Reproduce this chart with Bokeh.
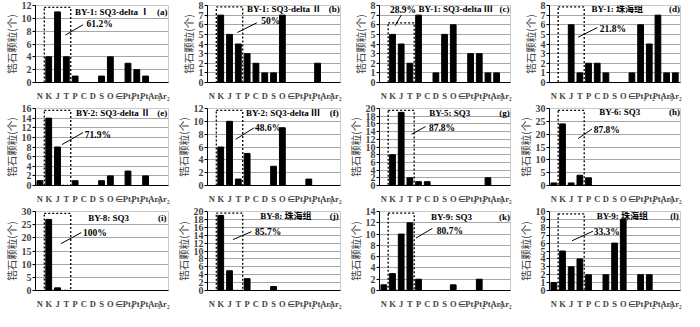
from bokeh.plotting import figure
from bokeh.layouts import gridplot
from bokeh.models import Range1d, FixedTicker
from bokeh.core.properties import value
from bokeh.embed import file_html
from bokeh.resources import INLINE

categories = ["N", "K", "J", "T", "P", "C", "D", "S", "O", "∈", "Pt₃", "Pt₂", "Pt₁", "Ar₃", "Ar₂"]

counts_a = [0, 4, 11, 4, 1, 0, 0, 1, 4, 0, 3, 2, 1, 0, 0]
counts_b = [0, 7, 5, 4, 3, 2, 1, 1, 7, 0, 0, 0, 2, 0, 0]
counts_c = [0, 5, 4, 2, 7, 0, 1, 5, 6, 0, 3, 3, 1, 1, 0]
counts_d = [0, 0, 6, 1, 2, 2, 1, 0, 0, 1, 6, 4, 7, 1, 1]
counts_e = [1, 14, 8, 0, 1, 0, 0, 1, 2, 0, 3, 0, 2, 0, 0]
counts_f = [0, 6, 10, 1, 5, 0, 0, 3, 9, 0, 0, 1, 0, 0, 0]
counts_g = [0, 8, 19, 2, 1, 1, 0, 0, 0, 0, 0, 0, 2, 0, 0]
counts_h = [1, 24, 1, 4, 3, 0, 0, 0, 0, 0, 0, 0, 0, 0, 0]
counts_i = [0, 27, 1, 0, 0, 0, 0, 0, 0, 0, 0, 0, 0, 0, 0]
counts_j = [0, 19, 5, 0, 3, 0, 0, 1, 0, 0, 0, 0, 0, 0, 0]
counts_k = [1, 3, 10, 12, 2, 0, 0, 0, 1, 0, 0, 2, 0, 0, 0]
counts_l = [1, 5, 3, 4, 2, 0, 2, 6, 9, 0, 2, 2, 0, 0, 0]

titles = ["BY-1: SQ3-delta Ⅰ", "BY-1: SQ3-delta Ⅱ", "BY-1: SQ3-delta  Ⅲ", "BY-1: 珠海组",
          "BY-2: SQ3-delta Ⅱ", "BY-2: SQ3-delta  Ⅲ", "BY-5: SQ3", "BY-6: SQ3",
          "BY-8: SQ3", "BY-8: 珠海组", "BY-9: SQ3", "BY-9: 珠海组"]
letters = ["(a)", "(b)", "(c)", "(d)", "(e)", "(f)", "(g)", "(h)", "(i)", "(j)", "(k)", "(l)"]
percents = ["61.2%", "50%", "28.9%", "21.8%", "71.9%", "48.6%", "87.8%", "87.8%", "100%", "85.7%", "80.7%", "33.3%"]
y_max = [12, 8, 8, 8, 16, 12, 20, 30, 30, 20, 14, 10]
y_step = [2, 1, 1, 1, 2, 2, 2, 5, 5, 2, 2, 1]
box_first = "K"
box_last = "T"
box_top = [11.7, 7.85, 6.2, 7.85, 15.6, 11.7, 19.5, 29.3, 29.3, 19.6, 13.7, 9.7]

# annotation anchors (category index, value): text start, leader line start/end
pct_x = [5.3, 5.6, 0.7, 5.3, 5.1, 4.9, 5.2, 4.6, 4.9, 4.9, 6.1, 4.6]
pct_y = [9.1, 6.4, 7.5, 5.6, 10.5, 9.0, 14.9, 21.7, 22.0, 14.9, 10.6, 7.4]
lead_x0 = [2.9, 2.9, 1.3, 2.8, 2.5, 2.7, 3.2, 2.8, 2.4, 2.4, 3.7, 2.1]
lead_y0 = [7.4, 5.2, 5.9, 4.7, 8.5, 7.2, 13.3, 18.3, 17.8, 12.9, 9.3, 6.3]
lead_x1 = [4.9, 5.1, 2.0, 5.0, 4.9, 4.8, 4.8, 4.4, 4.7, 4.5, 5.6, 4.5]
lead_y1 = [9.0, 6.2, 7.0, 5.7, 11.0, 9.0, 15.3, 22.0, 22.0, 14.9, 11.0, 7.5]
title_x = [8.2, 8.2, 8.4, 7.3, 8.3, 8.2, 7.6, 7.6, 7.8, 8.4, 7.8, 7.9]
title_yfrac = [0.915, 0.955, 0.952, 0.952, 0.941, 0.945, 0.945, 0.956, 0.92, 0.945, 0.926, 0.945]

all_counts = [counts_a, counts_b, counts_c, counts_d, counts_e, counts_f,
              counts_g, counts_h, counts_i, counts_j, counts_k, counts_l]

SERIF = "'Liberation Serif', 'Noto Sans CJK SC', serif"
idx = list(range(len(categories)))
row_heights = [103, 103, 105]
col_widths = [172, 172, 170, 170]

figs = []
for n, vals in enumerate(all_counts):
    ymax = y_max[n]
    h = row_heights[n // 4]
    w = col_widths[n % 4]
    p = figure(width=w, height=h, x_range=Range1d(-0.5, 14.6), y_range=Range1d(0, ymax),
               output_backend="svg", toolbar_location=None,
               min_border_left=0, min_border_right=4, min_border_top=5, min_border_bottom=2)
    p.background_fill_color = "white"
    p.outline_line_color = "#c8c8c8"
    p.xgrid.grid_line_color = None
    p.ygrid.grid_line_color = "#a6a6a6"
    p.ygrid.grid_line_width = 1

    p.vbar(x=idx, top=vals, width=0.66, color="black")

    bl = categories.index(box_first) - 0.5
    br = categories.index(box_last) + 0.5
    p.quad(left=[bl], right=[br], bottom=[0], top=[box_top[n]], fill_color=None,
           line_color="black", line_dash="2 2", line_width=1.3)

    p.segment(x0=[lead_x0[n]], y0=[lead_y0[n]], x1=[lead_x1[n]], y1=[lead_y1[n]],
              line_color="black", line_width=1)
    p.text(x=[pct_x[n]], y=[pct_y[n]], text=[percents[n]], text_font=value(SERIF),
           text_font_style="bold", text_font_size="9.5px", text_baseline="middle",
           text_align="left", text_color="black")
    ty = ymax * title_yfrac[n]
    p.text(x=[title_x[n]], y=[ty], text=[titles[n]], text_font=value(SERIF),
           text_font_style="bold", text_font_size="9px", text_baseline="middle",
           text_align="center", text_color="black")
    p.text(x=[13.9], y=[ty], text=[letters[n]], text_font=value(SERIF),
           text_font_style="bold", text_font_size="9px", text_baseline="middle",
           text_align="center", text_color="black")

    xa = p.xaxis[0]
    xa.ticker = FixedTicker(ticks=idx)
    xa.major_label_overrides = {i: c for i, c in enumerate(categories)}
    xa.major_tick_line_color = None
    xa.minor_tick_line_color = None
    xa.major_label_standoff = 2
    xa.major_label_text_font = SERIF
    xa.major_label_text_font_style = "bold"
    xa.major_label_text_font_size = "8.5px"
    xa.axis_line_color = "black"

    ya = p.yaxis[0]
    ya.ticker = FixedTicker(ticks=list(range(0, ymax + 1, y_step[n])))
    ya.minor_tick_line_color = None
    ya.major_tick_out = 3
    ya.major_tick_in = 0
    ya.major_label_standoff = 1
    ya.major_label_text_font = SERIF
    ya.major_label_text_font_size = "10px"
    ya.major_label_text_font_style = "bold"
    ya.axis_label = "锆石颗粒(个)"
    ya.axis_label_text_font = "Noto Sans CJK SC"
    ya.axis_label_text_font_size = "10.5px"
    ya.axis_label_text_font_style = "normal"
    ya.axis_label_standoff = 0
    ya.axis_line_color = "black"
    figs.append(p)

grid = gridplot(figs, ncols=4, toolbar_location=None)
open("out.html", "w").write(file_html(grid, INLINE))
